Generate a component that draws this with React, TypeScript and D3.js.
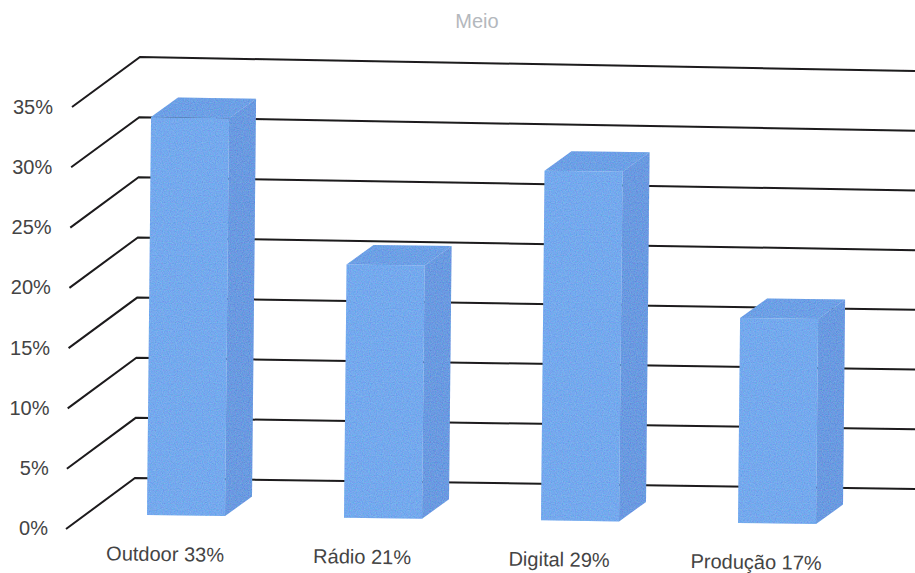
import { useEffect, useRef } from "react"
import * as d3 from "d3"

const categories = ["Outdoor", "Rádio", "Digital", "Produção"]
const values = [33, 21, 29, 17]
const barLabels = ["Outdoor 33%", "Rádio 21%", "Digital 29%", "Produção 17%"]
const ticks = [0, 5, 10, 15, 20, 25, 30, 35]
const title = "Meio"

const font = "'Liberation Sans', Arial, sans-serif"

export default function App() {
  const svgRef = useRef<SVGSVGElement>(null)

  useEffect(() => {
    if (!svgRef.current) return
    const svg = d3.select(svgRef.current)
    svg.selectAll("*").remove()

    // The source is a slightly rotated scan, so every scale carries the tilt
    const frontY = d3.scaleLinear().domain([0, 35]).range([529, 107])
    const frontX = d3.scaleLinear().domain([0, 35]).range([66, 72])
    const backY = d3.scaleLinear().domain([0, 35]).range([478, 57])
    const backX = d3.scaleLinear().domain([0, 35]).range([135, 140])
    const rightY = d3.scaleLinear().domain([0, 35]).range([489, 71])
    const labelY = d3.scaleLinear().domain([0, 35]).range([535, 114])
    const labelX = d3.scaleLinear().domain([0, 35]).range([48, 53])

    const barX = d3.scalePoint<string>().domain(categories).range([147, 738])
    const barBase = d3.scaleLinear().domain([147, 738]).range([515, 523])
    const barH = d3.scaleLinear().domain([0, 35]).range([0, 422])
    const barWidth = 78
    const depthX = 27
    const depthY = 19.5
    const lean = 0.0102
    const slope = 0.0135

    // Point on a bar: w along its width, d into its depth (both 0..1)
    const pt = (cat: string, v: number, w: number, d: number): [number, number] => {
      const x0 = barX(cat) as number
      return [
        x0 + w * barWidth + d * depthX + barH(v) * lean,
        barBase(x0) + w * barWidth * slope - barH(v) - d * depthY,
      ]
    }
    const poly = d3.line()

    const defs = svg.append("defs")
    const grain = defs.append("filter").attr("id", "grain").attr("x", 0).attr("y", 0).attr("width", 1).attr("height", 1)
    grain.append("feTurbulence").attr("type", "fractalNoise").attr("baseFrequency", 0.85).attr("numOctaves", 2).attr("seed", 4).attr("result", "n")
    grain
      .append("feColorMatrix")
      .attr("in", "n")
      .attr("type", "matrix")
      .attr("values", "0.9 0 0 0 0  0 1.3 0 0 0  0 0 1.9 0 0  0 0 0 0 0.22")
      .attr("result", "c")
    grain.append("feComposite").attr("in", "c").attr("in2", "SourceAlpha").attr("operator", "in").attr("result", "t")
    const merge = grain.append("feMerge")
    merge.append("feMergeNode").attr("in", "SourceGraphic")
    merge.append("feMergeNode").attr("in", "t")

    const soft = defs.append("filter").attr("id", "soft")
    soft.append("feGaussianBlur").attr("stdDeviation", 0.4)

    svg.append("rect").attr("width", 915).attr("height", 573).attr("fill", "#ffffff")

    svg
      .append("text")
      .attr("x", 477)
      .attr("y", 28)
      .attr("text-anchor", "middle")
      .attr("fill", "#b4b8bd")
      .style("font-family", font)
      .style("font-size", "20px")
      .text(title)

    // Grid: front edge, back wall
    svg
      .append("g")
      .attr("filter", "url(#soft)")
      .selectAll("path")
      .data(ticks)
      .enter()
      .append("path")
      .attr("d", (t) =>
        poly([
          [frontX(t), frontY(t)],
          [backX(t), backY(t)],
          [915, rightY(t)],
        ]),
      )
      .attr("fill", "none")
      .attr("stroke", "#1c1a1c")
      .attr("stroke-width", 2)

    svg
      .append("g")
      .selectAll("text")
      .data(ticks)
      .enter()
      .append("text")
      .attr("x", (t) => labelX(t))
      .attr("y", (t) => labelY(t))
      .attr("text-anchor", "end")
      .attr("fill", "#444444")
      .style("font-family", font)
      .style("font-size", "20px")
      .text((t) => `${t}%`)

    const bars = svg
      .append("g")
      .attr("filter", "url(#grain)")
      .selectAll("g")
      .data(categories)
      .enter()
      .append("g")

    // Right side
    bars
      .append("path")
      .attr("d", (c, i) =>
        poly([pt(c, values[i], 1, 0), pt(c, values[i], 1, 1), pt(c, 0, 1, 1), pt(c, 0, 1, 0)]) + "Z",
      )
      .attr("fill", "#4684dc")
    // Top
    bars
      .append("path")
      .attr("d", (c, i) =>
        poly([pt(c, values[i], 0, 0), pt(c, values[i], 0, 1), pt(c, values[i], 1, 1), pt(c, values[i], 1, 0)]) + "Z",
      )
      .attr("fill", "#4c8de2")
    // Front
    bars
      .append("path")
      .attr("d", (c, i) =>
        poly([pt(c, values[i], 0, 0), pt(c, values[i], 1, 0), pt(c, 0, 1, 0), pt(c, 0, 0, 0)]) + "Z",
      )
      .attr("fill", "#5a9bec")

    // Category labels, tilted with the scan
    svg
      .append("g")
      .selectAll("text")
      .data(categories)
      .enter()
      .append("text")
      .attr("transform", (c) => {
        const x = (barX(c) as number) + 18
        return `translate(${x},${barBase(barX(c) as number) + 46}) rotate(0.8)`
      })
      .attr("text-anchor", "middle")
      .attr("fill", "#444444")
      .style("font-family", font)
      .style("font-size", "20px")
      .text((_, i) => barLabels[i])
  }, [])

  return <svg ref={svgRef} width={915} height={573} style={{ position: "absolute", left: 0, top: 0, display: "block" }} />
}
